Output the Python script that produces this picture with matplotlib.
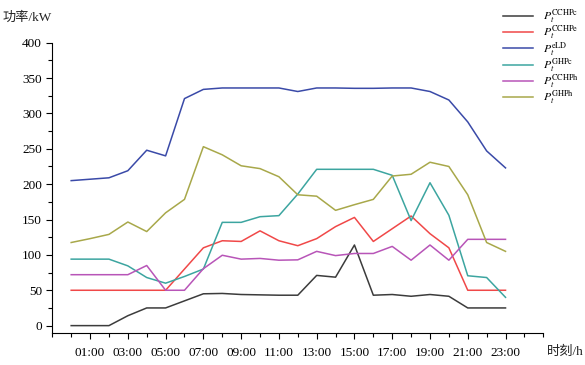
import matplotlib
matplotlib.use('Agg')
import matplotlib.pyplot as plt
import numpy as np

plt.rcParams['font.family'] = ['Liberation Serif', 'Noto Sans CJK SC']
plt.rcParams['mathtext.fontset'] = 'stix'

hours = list(range(24))
tick_labels = ['01:00', '03:00', '05:00', '07:00', '09:00', '11:00',
               '13:00', '15:00', '17:00', '19:00', '21:00', '23:00']

p_cchpc = [0, 0, 0, 14, 25, 25, 35, 45, 45.5, 44, 43.5, 43, 43, 71,
           68.5, 114, 43, 44, 41.5, 44, 41.5, 25, 25, 25]
p_cchpe = [50, 50, 50, 50, 50, 50, 80, 110, 120, 119, 134, 120, 113, 123,
           140, 153, 119, 137, 155, 130, 110, 50, 50, 50]
p_eld = [205, 207, 209, 219, 248, 240, 321, 334, 336, 336, 336, 336, 331, 336,
         336, 335.5, 335.5, 336, 336, 331, 319, 288, 247, 223]
p_ghpc = [94, 94, 94, 84.5, 68, 60, 69.5, 80, 146, 146, 154, 155.5, 186, 221,
          221, 221, 221, 212.5, 148.5, 202, 156, 70.5, 68, 40]
p_cchph = [72, 72, 72, 72, 85, 50, 50, 80.5, 99.5, 94, 95, 92.5, 93, 105,
           99, 102, 102, 112, 92.5, 114, 92.5, 122, 122, 122]
p_ghph = [117.5, 123, 129, 146.5, 133, 159.5, 178.5, 253, 241.5, 226, 222, 210.5, 185, 183,
          163, 171, 178.5, 211.5, 214, 231, 225, 185, 117.5, 105]

series = [
    (p_cchpc, r'$P_t^{\mathrm{CCHPc}}$', '#3c3c3c'),
    (p_cchpe, r'$P_t^{\mathrm{CCHPe}}$', '#f04848'),
    (p_eld, r'$P_t^{\mathrm{eLD}}$', '#3a4aa8'),
    (p_ghpc, r'$P_t^{\mathrm{GHPc}}$', '#3ca5a0'),
    (p_cchph, r'$P_t^{\mathrm{CCHPh}}$', '#b855b8'),
    (p_ghph, r'$P_t^{\mathrm{GHPh}}$', '#a8a84a'),
]

fig = plt.figure(figsize=(5.85, 3.65), dpi=100)
ax = fig.add_axes([0.0894, 0.0885, 0.8393, 0.7945])

for vals, lab, col in series:
    ax.plot(hours, vals, color=col, lw=1.1, label=lab)

ax.set_xlim(-1, 25)
ax.set_ylim(-10, 400)
ax.set_xticks(range(-1, 26), minor=True)
ax.set_xticks(range(1, 24, 2))
ax.set_xticklabels(tick_labels)
ax.set_yticks(range(0, 401, 50))
ax.set_yticks(range(0, 401, 25), minor=True)
ax.tick_params(axis='both', which='major', labelsize=9.5, direction='out', length=4, width=0.8)
ax.tick_params(axis='both', which='minor', direction='out', length=3, width=0.8)
ax.tick_params(axis='x', which='major', pad=6)
for s in ['top', 'right']:
    ax.spines[s].set_visible(False)
for s in ['left', 'bottom']:
    ax.spines[s].set_linewidth(0.8)

fig.text(0.005, 0.952, '功率/kW', fontsize=9.5, va='center', ha='left', color='#222222')
fig.text(0.998, 0.035, '时刻/h', fontsize=9.5, va='center', ha='right', color='#222222')

ax.legend(loc='upper left', bbox_to_anchor=(0.86, 0.978), bbox_transform=fig.transFigure,
          frameon=False, fontsize=8.5, handlelength=2.54, handletextpad=0.85,
          labelspacing=-0.1, borderaxespad=0, borderpad=0)

fig.savefig('out.png', dpi=100)
